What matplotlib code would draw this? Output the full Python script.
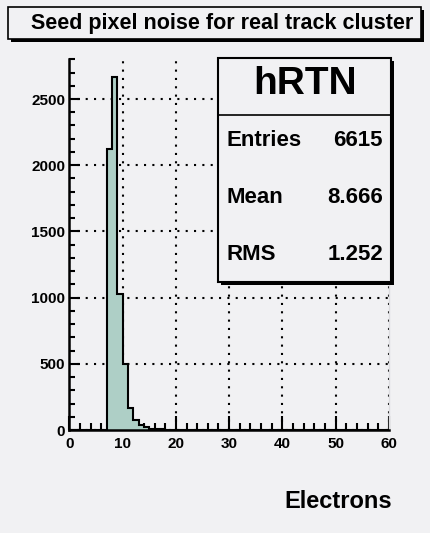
"""Seed pixel noise histogram, drawn in the ROOT canvas style."""

import numpy as np
import matplotlib
matplotlib.use("Agg")
import matplotlib.pyplot as plt
import matplotlib.patches as patches

# bin contents, 1-electron bins starting at 7
bin_start = 7
counts = [2125, 2665, 1025, 495, 163, 75, 38, 20, 10, 8, 5, 3, 2]
x_range = (0, 60)

hist_name = "hRTN"
stat_labels = ["Entries", "Mean", "RMS"]
stat_values = ["6615", "8.666", "1.252"]
title = "Seed pixel noise for real track cluster"
xlabel = "Electrons"

W, H = 430, 533
bg = "#f1f1f3"
fill = "#aecfc6"

plt.rcParams["font.family"] = ["Liberation Sans", "DejaVu Sans"]
plt.rcParams["font.weight"] = "bold"


def fx(px):
    return px / W


def fy(py):
    return 1 - py / H


fig = plt.figure(figsize=(W / 100, H / 100), dpi=100, facecolor=bg)

# plot frame: x 69..389 px, y 59..430 px
ax = fig.add_axes([fx(69.3), fy(430), (389 - 69.3) / W, (430 - 59.3) / H])
ax.set_facecolor(bg)

edges = np.arange(x_range[0], x_range[1] + 1)
full = np.zeros(len(edges) - 1)
full[bin_start:bin_start + len(counts)] = counts

ax.grid(True, color="black", linestyle=(0, (1, 3)), linewidth=1.5, zorder=0)
ax.stairs(full, edges, fill=True, color=fill, zorder=2)
ax.stairs(full, edges, color="black", linewidth=1.5, zorder=3)

ax.set_xlim(*x_range)
ax.set_ylim(0, max(counts) * 1.05)
ax.set_xticks(np.arange(0, 61, 10))
ax.set_xticks(np.arange(0, 61, 2), minor=True)
ax.set_yticks(np.arange(0, 2501, 500))
ax.set_yticks(np.arange(0, 2801, 100), minor=True)
ax.tick_params(which="both", direction="in", width=1.5, labelsize=11,
               top=False, right=False)
ax.tick_params(axis="x", which="major", length=10, pad=5)
ax.tick_params(axis="x", which="minor", length=5)
ax.tick_params(axis="y", which="major", length=8, pad=3)
ax.tick_params(axis="y", which="minor", length=4)
for lab in ax.get_xticklabels() + ax.get_yticklabels():
    lab.set_fontweight("bold")

ax.spines["top"].set_visible(False)
ax.spines["right"].set_color("#dcdcdf")
ax.spines["right"].set_linewidth(1)
ax.spines["left"].set_linewidth(1.8)
ax.spines["bottom"].set_linewidth(1.8)

fig.text(fx(392), fy(501), xlabel, ha="right", va="center",
         fontsize=17, fontweight="bold")


def shadow_box(x0, y0, x1, y1, lw=1.2, off=3):
    """Box with a black drop shadow, given in pixel corners."""
    shadow = patches.Rectangle((fx(x0 + off), fy(y1 + off)), (x1 - x0) / W,
                               (y1 - y0) / H, transform=fig.transFigure,
                               facecolor="black", edgecolor="none", zorder=10)
    box = patches.Rectangle((fx(x0), fy(y1)), (x1 - x0) / W, (y1 - y0) / H,
                            transform=fig.transFigure, facecolor=bg,
                            edgecolor="black", linewidth=lw, zorder=11)
    fig.add_artist(shadow)
    fig.add_artist(box)


# title box
shadow_box(8, 7, 421, 39)
fig.text(fx(222), fy(23), title, ha="center", va="center",
         fontsize=15.5, fontweight="bold", zorder=12)

# stats box
shadow_box(218, 58, 391, 282, lw=1.5)
fig.add_artist(plt.Line2D([fx(218), fx(391)], [fy(115), fy(115)],
                          transform=fig.transFigure, color="black",
                          linewidth=1.2, zorder=12))
fig.text(fx(305), fy(84), hist_name, ha="center", va="center",
         fontsize=28, fontweight="bold", zorder=12)
for i, (name, val) in enumerate(zip(stat_labels, stat_values)):
    y = fy(140 + i * 57.5)
    fig.text(fx(227), y, name, ha="left", va="center",
             fontsize=16, fontweight="bold", zorder=12)
    fig.text(fx(383), y, val, ha="right", va="center",
             fontsize=16, fontweight="bold", zorder=12)

fig.savefig("out.png", dpi=100, facecolor=bg)
